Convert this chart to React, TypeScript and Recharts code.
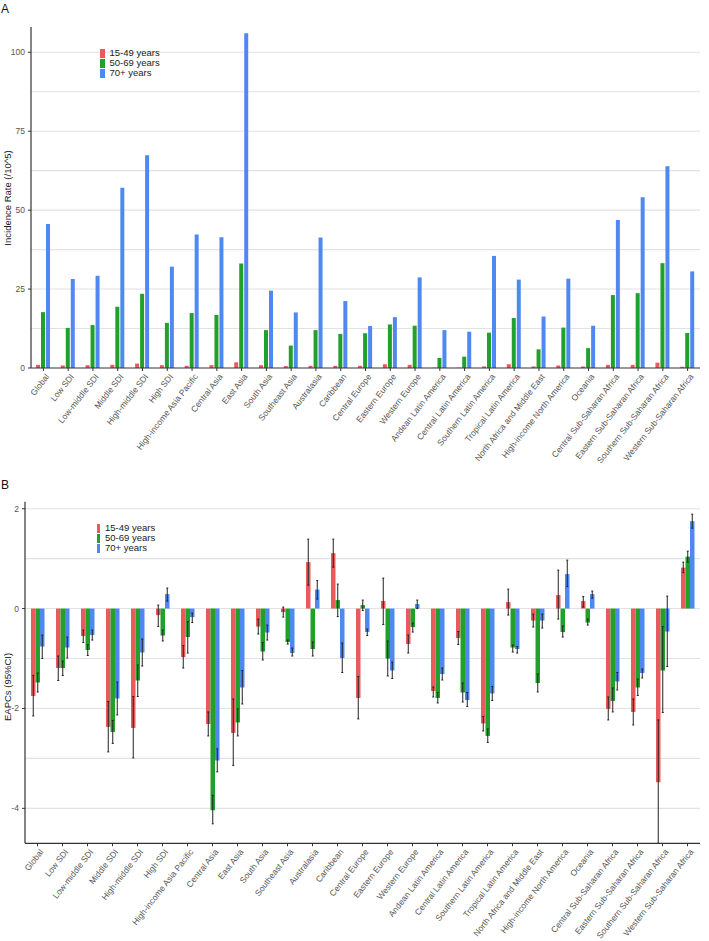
import React from 'react';
import { BarChart, Bar, XAxis, YAxis, CartesianGrid, ErrorBar, Legend } from 'recharts';

const categories = [
  'Global', 'Low SDI', 'Low-middle SDI', 'Middle SDI', 'High-middle SDI', 'High SDI',
  'High-income Asia Pacific', 'Central Asia', 'East Asia', 'South Asia', 'Southeast Asia',
  'Australasia', 'Caribbean', 'Central Europe', 'Eastern Europe', 'Western Europe',
  'Andean Latin America', 'Central Latin America', 'Southern Latin America',
  'Tropical Latin America', 'North Africa and Middle East', 'High-income North America',
  'Oceania', 'Central Sub-Saharan Africa', 'Eastern Sub-Saharan Africa',
  'Southern Sub-Saharan Africa', 'Western Sub-Saharan Africa',
];

const seriesNames = ['15-49 years', '50-69 years', '70+ years'];
const seriesColors = ['#EA5A5C', '#22A02C', '#4F88F0'];

// Panel A: incidence rate (/10^5)
const incidence15to49 = [1.0, 0.8, 0.9, 1.0, 1.4, 0.9, 0.7, 0.9, 1.8, 0.9, 0.6, 0.7, 0.7, 0.7, 1.2, 1.0, 0.1, 0.1, 0.5, 1.2, 0.5, 0.8, 0.5, 1.0, 1.0, 1.7, 0.4];
const incidence50to69 = [17.7, 12.7, 13.6, 19.4, 23.5, 14.3, 17.4, 16.8, 33.1, 12.0, 7.1, 12.0, 10.8, 11.0, 13.8, 13.4, 3.2, 3.6, 11.2, 15.8, 5.9, 12.8, 6.3, 23.1, 23.7, 33.2, 11.1];
const incidence70plus = [45.6, 28.2, 29.2, 57.1, 67.4, 32.1, 42.3, 41.4, 106.0, 24.5, 17.6, 41.3, 21.2, 13.3, 16.1, 28.7, 12.0, 11.5, 35.5, 28.0, 16.3, 28.3, 13.4, 46.9, 54.1, 63.9, 30.6];

const incidenceTicks = [0, 25, 50, 75, 100];
const incidenceGrid = [12.5, 25, 37.5, 50, 62.5, 75, 87.5, 100];

// Panel B: EAPCs with 95% CI
const eapc15to49 = [-1.75, -1.19, -0.55, -2.37, -2.39, -0.13, -0.97, -2.31, -2.49, -0.36, -0.07, 0.93, 1.11, -1.79, 0.15, -0.71, -1.65, -0.59, -2.30, 0.13, -0.24, 0.27, 0.15, -2.01, -2.07, -3.48, 0.82];
const lower15to49 = [-2.15, -1.44, -0.68, -2.87, -2.99, -0.36, -1.19, -2.55, -3.14, -0.51, -0.17, 0.47, 0.83, -2.21, -0.32, -0.89, -1.77, -0.72, -2.45, -0.13, -0.37, -0.21, 0.03, -2.23, -2.33, -4.7, 0.72];
const upper15to49 = [-1.34, -0.95, -0.43, -1.86, -1.76, 0.07, -0.74, -2.07, -1.81, -0.21, 0.03, 1.39, 1.39, -1.36, 0.61, -0.53, -1.57, -0.46, -2.16, 0.39, -0.11, 0.77, 0.24, -1.77, -1.81, -2.23, 0.93];

const eapc50to69 = [-1.48, -1.19, -0.83, -2.47, -1.44, -0.54, -0.57, -4.04, -2.28, -0.86, -0.67, -0.81, 0.17, 0.07, -1.0, -0.37, -1.79, -1.68, -2.55, -0.78, -1.49, -0.47, -0.28, -1.85, -1.58, -1.24, 1.04];
const lower50to69 = [-1.67, -1.34, -0.94, -2.70, -1.76, -0.65, -0.89, -4.31, -2.55, -1.03, -0.71, -0.95, -0.16, -0.04, -1.35, -0.47, -1.89, -1.87, -2.68, -0.87, -1.67, -0.57, -0.33, -2.07, -1.74, -2.08, 0.93];
const upper50to69 = [-1.29, -1.05, -0.72, -2.24, -1.13, -0.43, -0.26, -3.74, -2.01, -0.68, -0.63, -0.67, 0.49, 0.17, -0.65, -0.29, -1.68, -1.49, -2.41, -0.73, -1.31, -0.35, -0.21, -1.59, -1.41, -0.36, 1.15];

const eapc70plus = [-0.76, -0.78, -0.53, -1.80, -0.88, 0.29, -0.17, -3.04, -1.58, -0.48, -0.89, 0.38, -0.99, -0.47, -1.24, 0.09, -1.31, -1.83, -1.70, -0.81, -0.24, 0.69, 0.29, -1.46, -1.29, -0.46, 1.75];
const lower70plus = [-1.0, -0.99, -0.63, -2.13, -1.15, 0.15, -0.28, -3.27, -1.91, -0.63, -0.95, 0.19, -1.28, -0.54, -1.40, 0.0, -1.43, -1.96, -1.84, -0.89, -0.39, 0.44, 0.21, -1.63, -1.39, -1.16, 1.61];
const upper70plus = [-0.53, -0.57, -0.43, -1.47, -0.61, 0.41, -0.09, -2.81, -1.24, -0.33, -0.79, 0.56, -0.69, -0.41, -1.07, 0.17, -1.19, -1.68, -1.56, -0.76, -0.11, 0.97, 0.35, -1.28, -1.21, 0.25, 1.89];

const eapcTicks = [-4, -2, 0, 2];
const eapcGrid = [-4, -3, -2, -1, 0, 1, 2];

const incidenceData = categories.map((name, i) => ({
  name,
  s1: incidence15to49[i],
  s2: incidence50to69[i],
  s3: incidence70plus[i],
}));

const eapcData = categories.map((name, i) => ({
  name,
  s1: eapc15to49[i],
  s2: eapc50to69[i],
  s3: eapc70plus[i],
  e1: [eapc15to49[i] - lower15to49[i], upper15to49[i] - eapc15to49[i]],
  e2: [eapc50to69[i] - lower50to69[i], upper50to69[i] - eapc50to69[i]],
  e3: [eapc70plus[i] - lower70plus[i], upper70plus[i] - eapc70plus[i]],
}));

const FONT = '"Liberation Sans", Arial, Helvetica, sans-serif';
const AXIS = '#333333';
const GRID = '#e2e2e2';
const TICKTXT = '#555555';

const RotatedTick = (props: any) => {
  const { x, y, payload } = props;
  const ax = x + 1.5;
  const ay = y;
  return (
    <text
      x={ax}
      y={ay}
      dy="0.72em"
      transform={`rotate(-52 ${ax} ${ay})`}
      textAnchor="end"
      fontSize={8.5}
      fill={TICKTXT}
      fontFamily={FONT}
    >
      {payload.value}
    </text>
  );
};

const makeLegend = (keyW: number) => (props: any) => {
  const payload = props.payload || [];
  return (
    <div style={{ fontFamily: FONT, fontSize: 9.5, color: '#1a1a1a', lineHeight: '10px' }}>
      {payload.map((p: any, i: number) => (
        <div key={i} style={{ display: 'flex', alignItems: 'center', height: 10, whiteSpace: 'nowrap' }}>
          <span style={{ display: 'inline-block', width: keyW, height: 9, background: p.color, marginRight: 5 }} />
          <span>{p.value}</span>
        </div>
      ))}
    </div>
  );
};

export default function App() {
  return (
    <div style={{ position: 'absolute', left: 0, top: 0, width: 709, height: 941, background: '#fff' }}>
      <div style={{ position: 'absolute', left: 0, top: 0 }}>
        <BarChart
          width={709}
          height={470}
          data={incidenceData}
          margin={{ top: 27, right: 9, left: 0, bottom: 0 }}
          barSize={4}
          barGap={1}
        >
          <CartesianGrid vertical={false} horizontalValues={incidenceGrid} stroke={GRID} strokeWidth={1.1} />
          <XAxis
            dataKey="name"
            interval={0}
            height={102}
            tick={<RotatedTick />}
            tickSize={3}
            tickMargin={2}
            axisLine={{ stroke: AXIS, strokeWidth: 1.2 }}
            tickLine={{ stroke: AXIS }}
          />
          <YAxis
            width={31}
            type="number"
            domain={[0, 108]}
            allowDataOverflow
            ticks={incidenceTicks}
            tickSize={3}
            tickMargin={3}
            tick={{ fontSize: 8.5, fill: TICKTXT, fontFamily: FONT }}
            axisLine={{ stroke: AXIS, strokeWidth: 1.2 }}
            tickLine={{ stroke: AXIS }}
          />
          <Legend
            layout="horizontal"
            verticalAlign="middle"
            align="center"
            content={makeLegend(4.5)}
            wrapperStyle={{ position: 'absolute', left: 100, top: 48, width: 'auto', height: 'auto' }}
          />
          <Bar dataKey="s1" name={seriesNames[0]} fill={seriesColors[0]} isAnimationActive={false} />
          <Bar dataKey="s2" name={seriesNames[1]} fill={seriesColors[1]} isAnimationActive={false} />
          <Bar dataKey="s3" name={seriesNames[2]} fill={seriesColors[2]} isAnimationActive={false} />
        </BarChart>
      </div>
      <div style={{ position: 'absolute', left: 0, top: 470 }}>
        <BarChart
          width={709}
          height={471}
          data={eapcData}
          margin={{ top: 31.7, right: 9, left: 0, bottom: 0 }}
          barSize={4.5}
          barGap={0}
        >
          <CartesianGrid vertical={false} horizontalValues={eapcGrid} stroke={GRID} strokeWidth={1.1} />
          <XAxis
            dataKey="name"
            interval={0}
            height={97.7}
            tick={<RotatedTick />}
            tickSize={3}
            tickMargin={2}
            axisLine={{ stroke: AXIS, strokeWidth: 1.2 }}
            tickLine={{ stroke: AXIS }}
          />
          <YAxis
            width={25}
            type="number"
            domain={[-4.7, 2.14]}
            allowDataOverflow
            ticks={eapcTicks}
            tickSize={3}
            tickMargin={3}
            tick={{ fontSize: 8.5, fill: TICKTXT, fontFamily: FONT }}
            axisLine={{ stroke: AXIS, strokeWidth: 1.2 }}
            tickLine={{ stroke: AXIS }}
          />
          <Legend
            layout="horizontal"
            verticalAlign="middle"
            align="center"
            content={makeLegend(3.5)}
            wrapperStyle={{ position: 'absolute', left: 96.5, top: 53, width: 'auto', height: 'auto' }}
          />
          <Bar dataKey="s1" name={seriesNames[0]} fill={seriesColors[0]} isAnimationActive={false}>
            <ErrorBar dataKey="e1" width={1} stroke="#222" strokeWidth={1} />
          </Bar>
          <Bar dataKey="s2" name={seriesNames[1]} fill={seriesColors[1]} isAnimationActive={false}>
            <ErrorBar dataKey="e2" width={1} stroke="#222" strokeWidth={1} />
          </Bar>
          <Bar dataKey="s3" name={seriesNames[2]} fill={seriesColors[2]} isAnimationActive={false}>
            <ErrorBar dataKey="e3" width={1} stroke="#222" strokeWidth={1} />
          </Bar>
        </BarChart>
      </div>
      <svg width={709} height={941} style={{ position: 'absolute', left: 0, top: 0, pointerEvents: 'none' }}>
        <text x={1} y={13} fontSize={12} fontFamily={FONT} fill="#111">A</text>
        <text x={1} y={489} fontSize={12} fontFamily={FONT} fill="#111">B</text>
        <text
          x={0}
          y={0}
          transform="translate(11 198) rotate(-90)"
          textAnchor="middle"
          fontSize={9.5}
          fontFamily={FONT}
          fill="#222"
        >
          Incidence Rate (/10^5)
        </text>
        <text
          x={0}
          y={0}
          transform="translate(11 687) rotate(-90)"
          textAnchor="middle"
          fontSize={9.5}
          fontFamily={FONT}
          fill="#222"
        >
          EAPCs (95%CI)
        </text>
      </svg>
    </div>
  );
}
